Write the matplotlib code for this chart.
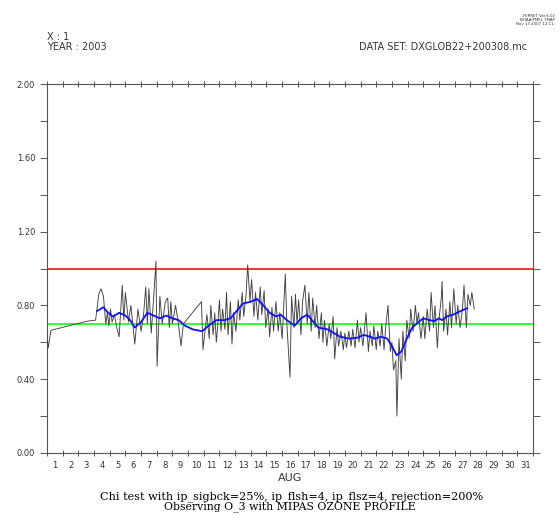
import matplotlib
matplotlib.use("Agg")
import matplotlib.pyplot as plt

# time axis: days since 1 Aug 2003 00:00
black_t = [0.0, 0.08, 0.25, 2.6, 3.1, 3.3, 3.45, 3.6, 3.75, 3.85, 3.95, 4.05, 4.15, 4.3, 4.45,
           4.6, 4.8, 4.9, 5.0, 5.2, 5.35, 5.6, 5.8, 6.0, 6.15, 6.3, 6.4, 6.5, 6.65, 6.8,
           6.95, 7.02, 7.2, 7.35, 7.55, 7.7, 7.8, 7.9, 8.0, 8.2, 8.35, 8.55, 8.7, 9.85, 9.95,
           10.1, 10.2, 10.35, 10.45, 10.6, 10.7, 10.8, 10.9, 11.0, 11.1, 11.2, 11.35, 11.45, 11.55, 11.7,
           11.8, 11.9, 12.05, 12.2, 12.3, 12.45, 12.55, 12.7, 12.8, 12.95, 13.05, 13.2, 13.3, 13.45, 13.6,
           13.7, 13.85, 13.95, 14.1, 14.2, 14.35, 14.45, 14.6, 14.75, 14.85, 15.0, 15.2, 15.3, 15.5, 15.6,
           15.75, 15.85, 15.95, 16.05, 16.2, 16.3, 16.45, 16.6, 16.7, 16.85, 16.95, 17.1, 17.2, 17.35, 17.5,
           17.6, 17.7, 17.85, 18.0, 18.1, 18.25, 18.35, 18.5, 18.6, 18.75, 18.9, 19.0, 19.1, 19.25, 19.4,
           19.5, 19.65, 19.8, 19.9, 20.0, 20.15, 20.35, 20.5, 20.6, 20.75, 20.85, 21.0, 21.1, 21.25, 21.35,
           21.5, 21.6, 21.75, 21.9, 22.0, 22.1, 22.25, 22.32, 22.45, 22.6, 22.7, 22.85, 22.95, 23.1, 23.2,
           23.35, 23.5, 23.6, 23.7, 23.85, 24.0, 24.1, 24.25, 24.4, 24.5, 24.65, 24.75, 24.9, 25.0, 25.15,
           25.2, 25.3, 25.45, 25.55, 25.7, 25.8, 25.95, 26.1, 26.2, 26.35, 26.5, 26.6, 26.75, 26.85, 27.0,
           27.1, 27.25]
black_v = [0.64, 0.57, 0.665, 0.715, 0.72, 0.86, 0.89, 0.85, 0.70, 0.76, 0.69, 0.78, 0.71, 0.75, 0.68,
           0.63, 0.91, 0.72, 0.87, 0.71, 0.80, 0.59, 0.78, 0.66, 0.74, 0.90, 0.70, 0.89, 0.65, 0.84,
           1.04, 0.47, 0.85, 0.70, 0.82, 0.84, 0.68, 0.82, 0.70, 0.80, 0.72, 0.58, 0.70, 0.82, 0.56,
           0.68, 0.75, 0.62, 0.80, 0.64, 0.76, 0.60, 0.70, 0.83, 0.66, 0.78, 0.67, 0.87, 0.64, 0.82,
           0.59, 0.76, 0.66, 0.83, 0.72, 0.87, 0.74, 0.86, 1.02, 0.82, 0.94, 0.74, 0.87, 0.72, 0.90,
           0.75, 0.88, 0.68, 0.78, 0.63, 0.79, 0.66, 0.82, 0.66, 0.76, 0.62, 0.97, 0.70, 0.41, 0.85,
           0.68, 0.86, 0.70, 0.83, 0.64, 0.82, 0.91, 0.70, 0.87, 0.66, 0.84, 0.68, 0.80, 0.62, 0.76,
           0.60, 0.72, 0.58, 0.70, 0.62, 0.74, 0.51, 0.68, 0.58, 0.66, 0.56, 0.65, 0.57, 0.66, 0.58,
           0.67, 0.57, 0.72, 0.60, 0.68, 0.58, 0.76, 0.55, 0.66, 0.58, 0.69, 0.56, 0.66, 0.58, 0.70,
           0.56, 0.68, 0.80, 0.55, 0.60, 0.45, 0.50, 0.20, 0.62, 0.40, 0.66, 0.50, 0.72, 0.62, 0.78,
           0.66, 0.80, 0.70, 0.76, 0.62, 0.74, 0.62, 0.78, 0.66, 0.87, 0.68, 0.80, 0.57, 0.72, 0.84,
           0.93, 0.66, 0.78, 0.64, 0.82, 0.68, 0.89, 0.70, 0.80, 0.68, 0.78, 0.91, 0.68, 0.86, 0.80,
           0.87, 0.78]

blue_t = [3.2, 3.6, 3.9, 4.2, 4.6, 5.0, 5.3, 5.6, 6.0, 6.4, 6.8, 7.2, 7.6, 8.0, 8.4,
          8.8, 9.3, 9.9, 10.3, 10.8, 11.3, 11.7, 12.1, 12.5, 13.0, 13.4, 13.8, 14.2, 14.6, 14.9,
          15.3, 15.8, 16.2, 16.6, 17.0, 17.3, 17.9, 18.3, 18.7, 19.3, 19.8, 20.2, 20.6, 20.9, 21.3,
          21.7, 22.0, 22.3, 22.6, 23.0, 23.3, 23.7, 24.0, 24.4, 24.7, 25.0, 25.2, 25.5, 25.9, 26.4,
          26.8]
blue_v = [0.77, 0.79, 0.76, 0.74, 0.76, 0.745, 0.72, 0.68, 0.71, 0.76, 0.745, 0.73, 0.745, 0.73, 0.72,
          0.69, 0.67, 0.66, 0.69, 0.72, 0.72, 0.73, 0.77, 0.81, 0.82, 0.835, 0.80, 0.76, 0.74, 0.75,
          0.72, 0.69, 0.73, 0.75, 0.71, 0.68, 0.67, 0.65, 0.63, 0.62, 0.625, 0.64, 0.63, 0.62, 0.63,
          0.62, 0.58, 0.53, 0.55, 0.63, 0.68, 0.71, 0.73, 0.72, 0.715, 0.73, 0.72, 0.74, 0.75, 0.77,
          0.785]

red_level = 1.0
green_level = 0.70
day_labels = [str(d) for d in range(1, 32)]

fig = plt.figure(figsize=(5.6, 5.21), dpi=100)
ax = fig.add_axes([47 / 560, 68 / 521, 486 / 560, 369 / 521])

ax.axhline(red_level, color="#ff2020", lw=1.3, zorder=2)
ax.axhline(green_level, color="#20ff20", lw=1.3, zorder=2)
ax.plot(black_t, black_v, color="#404040", lw=0.65, zorder=3)
ax.plot(blue_t, blue_v, color="#1010ff", lw=1.3, zorder=4)

ax.set_xlim(0, 31)
ax.set_ylim(0, 2.0)

# y ticks: labels every 0.4, ticks every 0.2, pointing out on both sides
ax.set_yticks([0.0, 0.4, 0.8, 1.2, 1.6, 2.0])
ax.set_yticklabels(["0.00", "0.40", "0.80", "1.20", "1.60", "2.00"])
ax.set_yticks([0.2, 0.6, 1.0, 1.4, 1.8], minor=True)
ax.tick_params(axis="y", which="both", direction="out", length=5, width=0.7,
               left=True, right=True, labelsize=6, labelcolor="#333333", color="#555555")

# x ticks at day boundaries, labels at day centres
ax.set_xticks(range(0, 32))
ax.set_xticklabels([])
ax.set_xticks([d + 0.5 for d in range(31)], minor=True)
ax.set_xticklabels(day_labels, minor=True)
ax.tick_params(axis="x", which="major", direction="inout", length=5, width=0.7,
               top=True, bottom=True, color="#555555")
ax.tick_params(axis="x", which="minor", length=0, labelsize=6, labelcolor="#333333", pad=6)
ax.set_xlabel("AUG", fontsize=8, color="#333333", labelpad=2)

for s in ax.spines.values():
    s.set_color("#555555")
    s.set_linewidth(0.8)

fig.text(47 / 560, 1 - 37 / 521, "X : 1", fontsize=7, color="#333333", va="center")
fig.text(47 / 560, 1 - 47 / 521, "YEAR : 2003", fontsize=7, color="#333333", va="center")
fig.text(527 / 560, 1 - 47 / 521, "DATA SET: DXGLOB22+200308.mc", fontsize=7,
         color="#333333", va="center", ha="right")
fig.text(555 / 560, 1 - 20 / 521, "FERRET Ver.6.02\nNOAA/PMEL TMAP\nNov 13 2007 12:11:",
         fontsize=2.8, color="#333333", va="center", ha="right", linespacing=1.1)

fig.text(292 / 560, 1 - 497 / 521,
         "Chi test with ip_sigbck=25%, ip_flsh=4, ip_flsz=4, rejection=200%",
         fontsize=8.1, family="DejaVu Serif", ha="center", va="center")
fig.text(290 / 560, 1 - 507 / 521, "Observing O_3 with MIPAS OZONE PROFILE",
         fontsize=7.8, family="DejaVu Serif", ha="center", va="center")

fig.savefig("out.png", dpi=100)
